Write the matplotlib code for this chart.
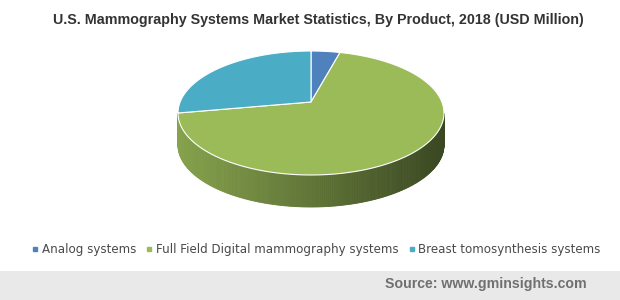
import numpy as np
import matplotlib
matplotlib.use("Agg")
import matplotlib.pyplot as plt
from matplotlib.patches import Polygon, Rectangle
from matplotlib.lines import Line2D
from matplotlib.colors import to_rgb

# data (share of market)
products = ['Analog systems', 'Full Field Digital mammography systems', 'Breast tomosynthesis systems']
values = [3.5, 71.5, 25.0]
colors = ['#4f81bd', '#9bbb59', '#4bacc6']

# pie geometry in pixels
cx, cy = 311, 113
rx, ry = 133, 62
depth = 32
apex_dy = -11   # perspective: slice apex sits above ellipse centre


def pt(theta, dy=0):
    t = np.radians(theta)
    return cx + rx * np.cos(t), cy - ry * np.sin(t) + dy


fig = plt.figure(figsize=(6.2, 3.0), dpi=100)
ax = fig.add_axes([0, 0, 1, 1])
ax.set_xlim(0, 620)
ax.set_ylim(300, 0)
ax.axis('off')

# slice angles, clockwise from 12 o'clock
total = sum(values)
bounds = [90.0]
for v in values:
    bounds.append(bounds[-1] - v / total * 360)

# side wall (front half only), shaded left-light to right-dark
light = np.array(to_rgb('#86a24c'))
dark = np.array(to_rgb('#3a4722'))
for i, v in enumerate(values):
    ths = np.linspace(bounds[i], bounds[i + 1], 300)
    for k in range(len(ths) - 1):
        t0, t1 = ths[k], ths[k + 1]
        if np.sin(np.radians((t0 + t1) / 2)) > -0.001:
            continue
        x0, y0 = pt(t0)
        x1, y1 = pt(t1)
        f = ((x0 + x1) / 2 - (cx - rx)) / (2 * rx)
        if i == 1:
            c = light * (1 - f) + dark * f
        else:
            base = np.array(to_rgb(colors[i]))
            c = base * (0.75 - 0.4 * f)
        ax.add_patch(Polygon([(x0, y0), (x1, y1), (x1, y1 + depth), (x0, y0 + depth)],
                             closed=True, facecolor=c, edgecolor=c, lw=0.6))

# top faces
for i, v in enumerate(values):
    ths = np.linspace(bounds[i], bounds[i + 1], 200)
    pts = [(cx, cy + apex_dy)] + [pt(t) for t in ths]
    ax.add_patch(Polygon(pts, closed=True, facecolor=colors[i], edgecolor='white', lw=0.8))

ax.text(318, 20, 'U.S. Mammography Systems Market Statistics, By Product, 2018 (USD Million)',
        ha='center', va='center', fontsize=10.3, fontweight='bold', color='#333333',
        family='Liberation Sans')

handles = [Line2D([], [], marker='s', ls='none', markersize=3, color=c) for c in colors]
ax.legend(handles, products, loc='center', bbox_to_anchor=(316 / 620, 1 - 250 / 300), ncol=3,
          frameon=False, fontsize=8.6, handletextpad=0.25, columnspacing=0.8,
          handlelength=0.6, labelcolor='#4a4a4a')

ax.add_patch(Rectangle((0, 271), 620, 29, facecolor='#e9e9e9', edgecolor='none'))
ax.text(587, 284, 'Source: www.gminsights.com', ha='right', va='center', fontsize=10.2,
        fontweight='bold', color='#707070', family='Liberation Sans')

fig.savefig('out.png', dpi=100)
